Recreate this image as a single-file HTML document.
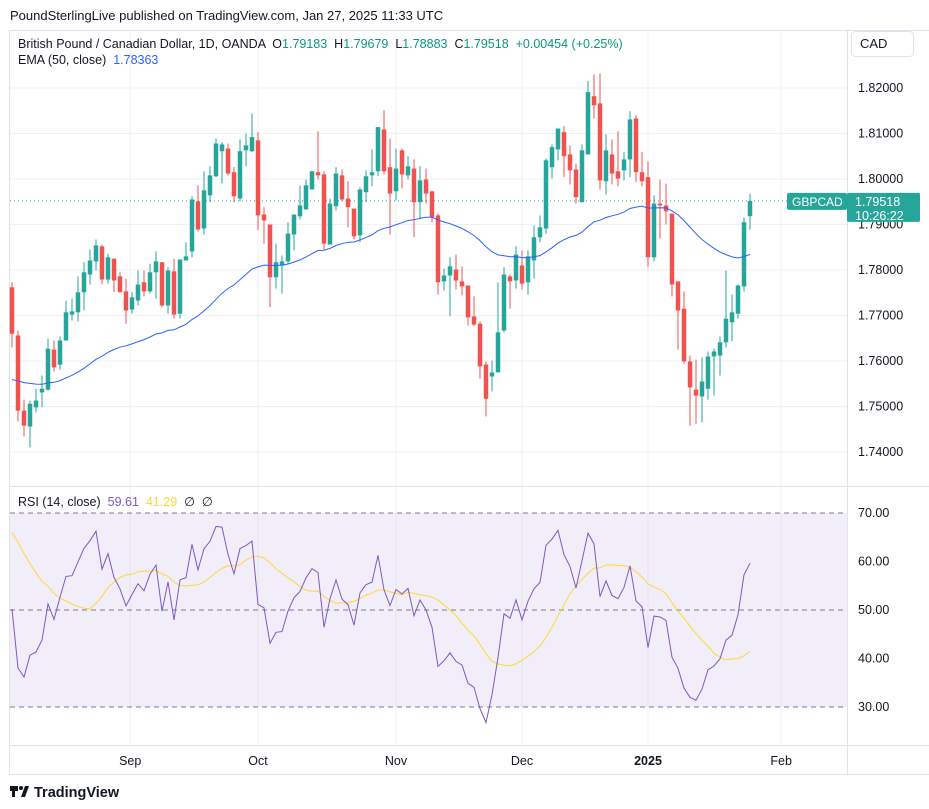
<!DOCTYPE html>
<html><head><meta charset="utf-8">
<style>
body{margin:0;background:#fff;font-family:"Liberation Sans",sans-serif;}
#wrap{position:relative;width:929px;height:809px;overflow:hidden;}
svg{position:absolute;left:0;top:0;}
text{white-space:pre;}
</style></head>
<body>
<div id="wrap">
<svg id="chart" width="929" height="809"></svg>
</div>
<script>
// ---------- data ----------
const opens  = [1.7762,1.7656,1.7491,1.7456,1.7498,1.7531,1.7537,1.7625,1.7592,1.7645,1.7702,1.7707,1.7751,1.7790,1.7819,1.7852,1.7779,1.7825,1.7786,1.7753,1.7713,1.7733,1.7773,1.7753,1.7795,1.7817,1.7722,1.7797,1.7704,1.7821,1.7841,1.7951,1.7891,1.7964,1.8006,1.8061,1.8067,1.8015,1.7957,1.8063,1.8061,1.8085,1.7922,1.7900,1.7784,1.7810,1.7819,1.7878,1.7918,1.7933,1.7977,1.8015,1.8010,1.7856,1.7940,1.8008,1.7957,1.7935,1.7876,1.7971,1.8008,1.8017,1.8109,1.8026,1.7973,1.8063,1.8008,1.8023,1.7949,1.7999,1.7973,1.7920,1.7775,1.7788,1.7801,1.7775,1.7766,1.7698,1.7682,1.7592,1.7566,1.7575,1.7667,1.7786,1.7777,1.7810,1.7773,1.7821,1.7872,1.7891,1.8026,1.8065,1.8103,1.8054,1.8021,1.7949,1.8054,1.8182,1.8166,1.7995,1.8054,1.8017,1.8019,1.8043,1.8133,1.8015,1.8004,1.7828,1.7946,1.7942,1.7924,1.7775,1.7715,1.7599,1.7537,1.7522,1.7539,1.7610,1.7612,1.7641,1.7685,1.7704,1.7764,1.79183];
const highs  = [1.7773,1.7667,1.7515,1.7513,1.7539,1.7568,1.7649,1.7645,1.7654,1.7733,1.7737,1.7786,1.7817,1.7845,1.7867,1.7856,1.7836,1.7825,1.7795,1.7781,1.7751,1.7799,1.7799,1.7814,1.7841,1.7817,1.7806,1.7825,1.7823,1.7861,1.7962,1.7986,1.8017,1.8028,1.8089,1.8081,1.8078,1.8026,1.8087,1.8100,1.8144,1.8103,1.7938,1.7900,1.7858,1.7832,1.7905,1.7922,1.7986,1.7999,1.8017,1.8105,1.8017,1.7957,1.8026,1.8021,1.7995,1.7935,1.7982,1.8019,1.8065,1.8114,1.8151,1.8089,1.8067,1.8067,1.8050,1.8043,1.8028,1.8023,1.7973,1.7924,1.7803,1.7828,1.7834,1.7808,1.7766,1.7742,1.7687,1.7599,1.7601,1.7773,1.7806,1.7790,1.7852,1.7843,1.7843,1.7898,1.7920,1.8045,1.8076,1.8111,1.8116,1.8074,1.8034,1.8076,1.8215,1.8230,1.8232,1.8098,1.8087,1.8105,1.8059,1.8149,1.8140,1.8059,1.8039,1.7964,1.7999,1.7990,1.7924,1.7775,1.7753,1.7612,1.7603,1.7608,1.7621,1.7627,1.7654,1.7799,1.7746,1.7768,1.7916,1.79679];
const lows   = [1.7630,1.7467,1.7434,1.7410,1.7487,1.7498,1.7535,1.7577,1.7581,1.7645,1.7689,1.7687,1.7711,1.7768,1.7799,1.7768,1.7770,1.7751,1.7751,1.7682,1.7704,1.7722,1.7742,1.7748,1.7737,1.7718,1.7704,1.7693,1.7693,1.7821,1.7828,1.7885,1.7878,1.7949,1.8004,1.7990,1.8008,1.7949,1.7951,1.8028,1.8059,1.7887,1.7858,1.7718,1.7759,1.7748,1.7814,1.7843,1.7911,1.7933,1.7977,1.7999,1.7845,1.7856,1.7931,1.7951,1.7894,1.7867,1.7861,1.7949,1.7984,1.8006,1.8010,1.7878,1.7953,1.7979,1.7999,1.7872,1.7911,1.7946,1.7905,1.7746,1.7755,1.7698,1.7757,1.7744,1.7678,1.7676,1.7561,1.7478,1.7533,1.7575,1.7663,1.7715,1.7759,1.7757,1.7746,1.7781,1.7861,1.7880,1.8001,1.8041,1.8004,1.7988,1.7946,1.7949,1.8054,1.8133,1.7977,1.7966,1.7988,1.7984,1.7997,1.8004,1.7993,1.7984,1.7806,1.7819,1.7869,1.7900,1.7742,1.7625,1.7594,1.7458,1.7462,1.7465,1.7515,1.7524,1.7568,1.7630,1.7643,1.7693,1.7753,1.78883];
const closes = [1.7660,1.7491,1.7458,1.7506,1.7513,1.7539,1.7627,1.7586,1.7645,1.7707,1.7709,1.7751,1.7795,1.7821,1.7854,1.7779,1.7828,1.7777,1.7751,1.7711,1.7740,1.7768,1.7753,1.7795,1.7819,1.7722,1.7799,1.7702,1.7823,1.7830,1.7955,1.7889,1.7975,1.8008,1.8078,1.8076,1.8012,1.7962,1.8061,1.8074,1.8092,1.7920,1.7909,1.7784,1.7817,1.7819,1.7880,1.7922,1.7942,1.7986,1.8017,1.8008,1.7858,1.7946,1.8012,1.7955,1.7938,1.7874,1.7977,1.8006,1.8015,1.8114,1.8017,1.7968,1.8023,1.8010,1.8028,1.7949,1.7997,1.7968,1.7916,1.7773,1.7788,1.7808,1.7777,1.7764,1.7696,1.7680,1.7588,1.7517,1.7575,1.7663,1.7790,1.7775,1.7834,1.7770,1.7830,1.7872,1.7894,1.8041,1.8070,1.8111,1.8050,1.8019,1.7960,1.8063,1.8191,1.8162,1.7997,1.8063,1.8012,1.8001,1.8043,1.8131,1.8015,1.7995,1.7828,1.7946,1.7942,1.7929,1.7768,1.7711,1.7599,1.7542,1.7524,1.7555,1.7610,1.7621,1.7641,1.7693,1.7707,1.7766,1.7905,1.79518];
const emaSeed = 1.7555;            // EMA value before first visible bar
const rsiSeedGain = 0.0022, rsiSeedLoss = 0.0014;  // Wilder averages before first bar
const rsiHistory = [66,68,70,69,67,66,68,67,65,66,67,68,66]; // RSI values before first bar
const priceTicks = [1.82,1.81,1.80,1.79,1.78,1.77,1.76,1.75,1.74];
const rsiTicks = [70,60,50,40,30];
const monthLabels = ["Sep","Oct","Nov","Dec","2025","Feb"];
const monthIndex = [19.7,41,64,85,106,128.2]; // bar index of month start

// ---------- scales ----------
const NS="http://www.w3.org/2000/svg";
const svg=document.getElementById('chart');
const X0=12, DX=6;
const xOf=i=>X0+i*DX;
const yP=p=>88+(1.82-p)*4550;
const yR=v=>513+(70-v)*4.85;
function mk(tag,attrs,parent){const e=document.createElementNS(NS,tag);for(const k in attrs)e.setAttribute(k,attrs[k]);(parent||svg).appendChild(e);return e;}
function txt(x,y,s,attrs){const e=mk('text',Object.assign({x:x,y:y,'font-family':'Liberation Sans, sans-serif','font-size':12,fill:'#131722'},attrs||{}));e.textContent=s;return e;}

mk('rect',{x:10,y:30,width:837,height:715,fill:'#fff',stroke:'none'});
monthIndex.forEach((m,i)=>{
  const g=mk('line',{x1:xOf(m),x2:xOf(m),y1:30,y2:745,stroke:'#f0f1f4','stroke-width':1});
  
  
});
priceTicks.forEach(p=>{
  const g=mk('line',{x1:10,x2:847,y1:yP(p),y2:yP(p),stroke:'#f0f1f4'});
  
  
  const t=txt(858,yP(p)+4,p.toFixed(5),{'font-size':12.5});
  
  
});
mk('line',{x1:10,x2:929,y1:30.5,y2:30.5,stroke:'#e0e3eb'});
mk('line',{x1:10,x2:929,y1:486.5,y2:486.5,stroke:'#e0e3eb'});
mk('line',{x1:10,x2:929,y1:745.5,y2:745.5,stroke:'#e0e3eb'});
mk('line',{x1:10,x2:929,y1:774.5,y2:774.5,stroke:'#e0e3eb'});
mk('line',{x1:847.5,x2:847.5,y1:30,y2:775,stroke:'#e0e3eb'});
mk('line',{x1:9.5,x2:9.5,y1:30,y2:775,stroke:'#e0e3eb'});

const band=mk('rect',{x:10,y:yR(70),width:837,height:yR(30)-yR(70),fill:'rgba(126,87,194,0.1)'});


[70,50,30].forEach(v=>{
  const l=mk('line',{x1:10,x2:847,y1:yR(v),y2:yR(v),stroke:'#787b86','stroke-dasharray':'5,4','stroke-width':1});
  
  
});
rsiTicks.forEach(v=>{
  const t=txt(858,yR(v)+4,v.toFixed(2),{'font-size':12.5});
  
  
});

const lastC=closes[closes.length-1];
const dl=mk('line',{x1:10,x2:847,y1:yP(lastC),y2:yP(lastC),stroke:'#26a69a','stroke-dasharray':'1,3'});



for(let i=0;i<closes.length;i++){
  const up=closes[i]>=opens[i];const col=up?'#26a69a':'#ef5350';
  const x=xOf(i);
  const w=mk('line',{x1:x,x2:x,y1:yP(highs[i]),y2:yP(lows[i]),stroke:col,'stroke-width':1});
  
  
  const top=yP(Math.max(opens[i],closes[i])),bot=yP(Math.min(opens[i],closes[i]));
  const b=mk('rect',{x:x-2.25,y:top,width:4.5,height:Math.max(1,bot-top),fill:col});
  
  
}

let ema=emaSeed;const k=2/51;let pts=[];
for(let i=0;i<closes.length;i++){ema=closes[i]*k+ema*(1-k);pts.push(xOf(i)+','+yP(ema).toFixed(1));}
const emaLine=mk('polyline',{points:pts.join(' '),fill:'none',stroke:'#2962ff','stroke-width':1});



let ag=rsiSeedGain,al=rsiSeedLoss,prev=opens[0];const rsi=[];
for(let i=0;i<closes.length;i++){const ch=closes[i]-prev;prev=closes[i];
  ag=(ag*13+Math.max(ch,0))/14;al=(al*13+Math.max(-ch,0))/14;rsi.push(100-100/(1+ag/al));}
const all=rsiHistory.concat(rsi);const ma=[];
for(let i=0;i<rsi.length;i++){let s=0;for(let j=0;j<14;j++)s+=all[i+13-j];ma.push(s/14);}
const maLine=mk('polyline',{points:ma.map((v,i)=>xOf(i)+','+yR(v).toFixed(1)).join(' '),fill:'none',stroke:'#fdd835','stroke-width':1});


const rsiLine=mk('polyline',{points:rsi.map((v,i)=>xOf(i)+','+yR(v).toFixed(1)).join(' '),fill:'none',stroke:'#7e57c2','stroke-width':1});



monthLabels.forEach((m,i)=>{
  const t=txt(xOf(monthIndex[i]),765,m,{'text-anchor':'middle','font-size':12.5,'font-weight':m==='2025'?'bold':'normal'});
  
  
});

const gl=mk('rect',{x:787,y:yP(lastC)-8,width:60,height:17,fill:'#26a69a',rx:2});


txt(792,yP(lastC)+5,'GBPCAD',{fill:'#fff','font-size':12});
const pl=mk('rect',{x:847,y:yP(lastC)-8,width:73,height:29,fill:'#26a69a',rx:2});


txt(855,yP(lastC)+5,lastC.toFixed(5),{fill:'#fff','font-size':12.5});
txt(855,yP(lastC)+19,'10:26:22',{fill:'#fff','font-size':12.5});

const hd=txt(10,20,'PoundSterlingLive published on TradingView.com, Jan 27, 2025 11:33 UTC',{'font-size':13});


const lg=txt(18,48,'',{'font-size':12.5});


[['British Pound / Canadian Dollar, 1D, OANDA  ','#131722'],['O','#131722'],['1.79183  ','#089981'],['H','#131722'],['1.79679  ','#089981'],['L','#131722'],['1.78883  ','#089981'],['C','#131722'],['1.79518  +0.00454 (+0.25%)','#089981']].forEach(([s,c])=>{const ts=document.createElementNS(NS,'tspan');ts.setAttribute('fill',c);ts.textContent=s;lg.appendChild(ts);});
const el=txt(18,64,'',{'font-size':12.5});


[['EMA (50, close)  ','#131722'],['1.78363','#2962ff']].forEach(([s,c])=>{const ts=document.createElementNS(NS,'tspan');ts.setAttribute('fill',c);ts.textContent=s;el.appendChild(ts);});
const rl=txt(18,506,'',{'font-size':12.5});


[['RSI (14, close)  ','#131722'],['59.61  ','#7e57c2'],['41.29  ','#fdd835'],['∅  ∅','#131722']].forEach(([s,c])=>{const ts=document.createElementNS(NS,'tspan');ts.setAttribute('fill',c);ts.textContent=s;rl.appendChild(ts);});

const cad=mk('rect',{x:851.5,y:31.5,width:62,height:25,fill:'#fff',stroke:'#e0e3eb',rx:4});


txt(860,48,'CAD',{'font-size':13});

const lgo=mk('g',{});


mk('rect',{x:10,y:786,width:8,height:5,fill:'#131722'},lgo);
mk('rect',{x:12,y:786,width:3,height:11,fill:'#131722'},lgo);
mk('circle',{cx:21,cy:788,r:2,fill:'#131722'},lgo);
mk('polygon',{points:'21,797 25,786 29,786 25,797',fill:'#131722'},lgo);
const lt=txt(34,797,'TradingView',{'font-size':14.5,'font-weight':'bold'});
lgo.appendChild(lt);
</script>
</body></html>
